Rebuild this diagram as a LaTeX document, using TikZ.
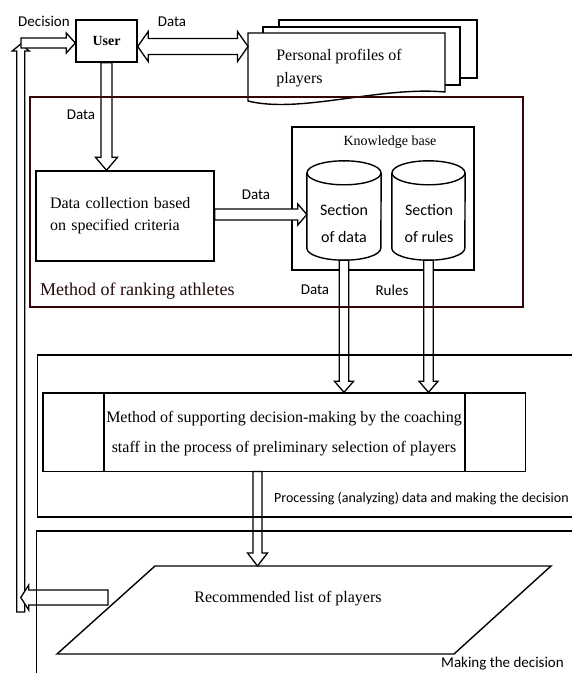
\documentclass[tikz,border=0pt]{standalone}
\usepackage{fontspec}
\setmainfont{Liberation Serif}
\newfontfamily\calib{Carlito}
\usetikzlibrary{calc}
\definecolor{rankred}{RGB}{52,6,6}
\definecolor{ranktext}{RGB}{36,10,10}

\tikzset{
  box/.style={draw, line width=1.4pt, fill=white, inner sep=0pt},
  page/.style={draw, line width=1.4pt, fill=white, line join=miter},
  barrow/.style={draw, fill=white, line width=1.3pt, line join=miter},
  lbl/.style={font=\calib\fontsize{15}{18}\selectfont, inner sep=0pt},
  sertext/.style={font=\fontsize{16}{22}\selectfont, inner sep=0pt},
  frameline/.style={line width=1.5pt},
  rankframe/.style={draw=rankred, line width=2.6pt},
}

% block arrow: start, end, shaft half width, head half width, head length
\newcommand\blockarrow[5]{%
  \path let \p1=($(#2)-(#1)$) in \pgfextra{%
    \pgfmathsetmacro\balen{veclen(\x1,\y1)}%
    \pgfmathsetmacro\baang{atan2(\y1,\x1)}%
    \global\let\balen\balen\global\let\baang\baang};
  \begin{scope}[shift={(#1)}, rotate=\baang]
    \draw[barrow] (0pt,#3pt) -- (\balen pt-#5pt,#3pt) -- (\balen pt-#5pt,#4pt)
      -- (\balen pt,0pt) -- (\balen pt-#5pt,-#4pt) -- (\balen pt-#5pt,-#3pt)
      -- (0pt,-#3pt) -- cycle;
  \end{scope}}
% double-headed block arrow
\newcommand\dblockarrow[5]{%
  \path let \p1=($(#2)-(#1)$) in \pgfextra{%
    \pgfmathsetmacro\balen{veclen(\x1,\y1)}%
    \pgfmathsetmacro\baang{atan2(\y1,\x1)}%
    \global\let\balen\balen\global\let\baang\baang};
  \begin{scope}[shift={(#1)}, rotate=\baang]
    \draw[barrow] (#5pt,#3pt) -- (\balen pt-#5pt,#3pt) -- (\balen pt-#5pt,#4pt)
      -- (\balen pt,0pt) -- (\balen pt-#5pt,-#4pt) -- (\balen pt-#5pt,-#3pt)
      -- (#5pt,-#3pt) -- (#5pt,-#4pt) -- (0pt,0pt) -- (#5pt,#4pt) -- cycle;
  \end{scope}}

\begin{document}
\begin{tikzpicture}[x=1pt,y=-1pt]
\useasboundingbox (0,0) rectangle (572,673);
\fill[white] (0,0) rectangle (572,673);

% ---------- personal profiles (stacked pages)
\draw[page] (279,20) rectangle (477,78);
\draw[page] (263,27) rectangle (460,85);
\draw[page] (248,33) -- (445,33) -- (445,92) .. controls (380,86) and (300,114) .. (248,101) -- cycle;
\node[sertext, align=left, font=\fontsize{16}{23}\selectfont] (prof) at (339,68) {Personal profiles of\\players};
\coordinate (profL) at (248,46.5);

% ---------- user
\node[box, minimum width=61pt, minimum height=42pt, font=\bfseries\fontsize{14}{16}\selectfont] (user) at (106.5,41) {User};
\node[lbl] (ldecision) at (44,21) {Decision};
\node[lbl] (ldata1) at (172,22) {Data};

% ---------- data collection
\node[box, minimum width=178pt, minimum height=90pt, text width=150pt, align=left,
      font=\fontsize{16}{22}\selectfont] (dc) at (125,216) {Data collection based\\on specified criteria};
\node[lbl] (ldata2) at (81,115) {Data};
\node[lbl] (ldata3) at (256,195) {Data};

% ---------- knowledge base
\node[box, minimum width=182pt, minimum height=143pt] (kb) at (383,198.5) {};
\node[inner sep=0pt, font=\fontsize{14}{16}\selectfont] (kbl) at (390,142) {Knowledge base};

\node[minimum width=74pt, minimum height=99pt, inner sep=0pt] (cyl1) at (344,210.5) {};
\node[minimum width=73pt, minimum height=99pt, inner sep=0pt] (cyl2) at (428.5,210.5) {};
\foreach \c/\r in {cyl1/37,cyl2/36.5}{
  \draw[line width=1.4pt, fill=white] ($(\c.north west)+(0,12)$) -- ($(\c.south west)+(0,-12)$)
     arc[start angle=180, end angle=360, x radius=\r pt, y radius=12pt]
     -- ($(\c.north east)+(0,12)$);
  \draw[line width=1.4pt] ($(\c.north)+(0,12)$) ellipse [x radius=\r pt, y radius=12pt];
}
\node[align=center, inner sep=0pt, font=\calib\fontsize{16}{27}\selectfont] (t1) at (344,224) {Section\\of data};
\node[align=center, inner sep=0pt, font=\calib\fontsize{16}{27}\selectfont] (t2) at (429,224) {Section\\of rules};
\node[lbl] (ldata4) at (315,290) {Data};
\node[lbl] (lrules) at (392,290) {Rules};

% ---------- method box
\node[box, minimum width=482.5pt, minimum height=78.5pt] (meth) at (284.25,432.25) {};
\draw[line width=1.4pt] (104,393) -- (104,471.5);
\draw[line width=1.4pt] (465,393) -- (465,471.5);
\node[align=center, inner sep=0pt, font=\fontsize{16}{30}\selectfont] (mtext) at (284,434) {Method of supporting decision-making by the coaching\\staff in the process of preliminary selection of players};
\node[anchor=west, inner sep=0pt, font=\calib\fontsize{14}{16}\selectfont] (lproc) at (274,499) {Processing (analyzing) data and making the decision};

% ---------- recommended list
\draw[line width=1.4pt, fill=white] (155,566) -- (551,566) -- (454,654) -- (57,654) -- cycle;
\node[sertext] (rec) at (288,598.5) {Recommended list of players};
\node[anchor=west, lbl] (lmake) at (441,664) {Making the decision};

% ---------- coordinates for connectors
\coordinate (chbot) at (20.75,612);
\coordinate (chtop) at (20.75,44);
\coordinate (dstart) at (21,43);
\coordinate (recL) at (108,597.5);
\coordinate (outS) at (257.5,471.5);
\coordinate (outE) at (257.5,566);

% ---------- block arrows
\blockarrow{chbot}{chtop}{4}{8.5}{7}
\blockarrow{dstart}{dstart -| user.west}{5}{10}{9}
\dblockarrow{user.east |- profL}{profL}{8}{15}{10.5}
\blockarrow{user.south}{user.south |- dc.north}{5.5}{11}{13}
\blockarrow{dc.east |- 0,214.5}{cyl1.west |- 0,214.5}{5.5}{10.5}{9}
\blockarrow{cyl1.south}{cyl1.south |- meth.north}{4.75}{9.5}{11}
\blockarrow{cyl2.south}{cyl2.south |- meth.north}{4.75}{9.5}{11}
\blockarrow{outS}{outE}{4.5}{10}{13}
\blockarrow{recL}{chbot |- recL}{7.5}{12.5}{8}

% ---------- frames
\draw[rankframe] (30,97) rectangle (523,307);
\node[anchor=west, inner sep=0pt, text=ranktext, font=\fontsize{18}{20}\selectfont] (lrank) at (40,291) {Method of ranking athletes};
\draw[frameline] (572,355) -- (37.6,355) -- (37.6,517) -- (572,517);
\draw[frameline] (572,531) -- (36.5,531) -- (36.5,673);
\end{tikzpicture}
\end{document}
